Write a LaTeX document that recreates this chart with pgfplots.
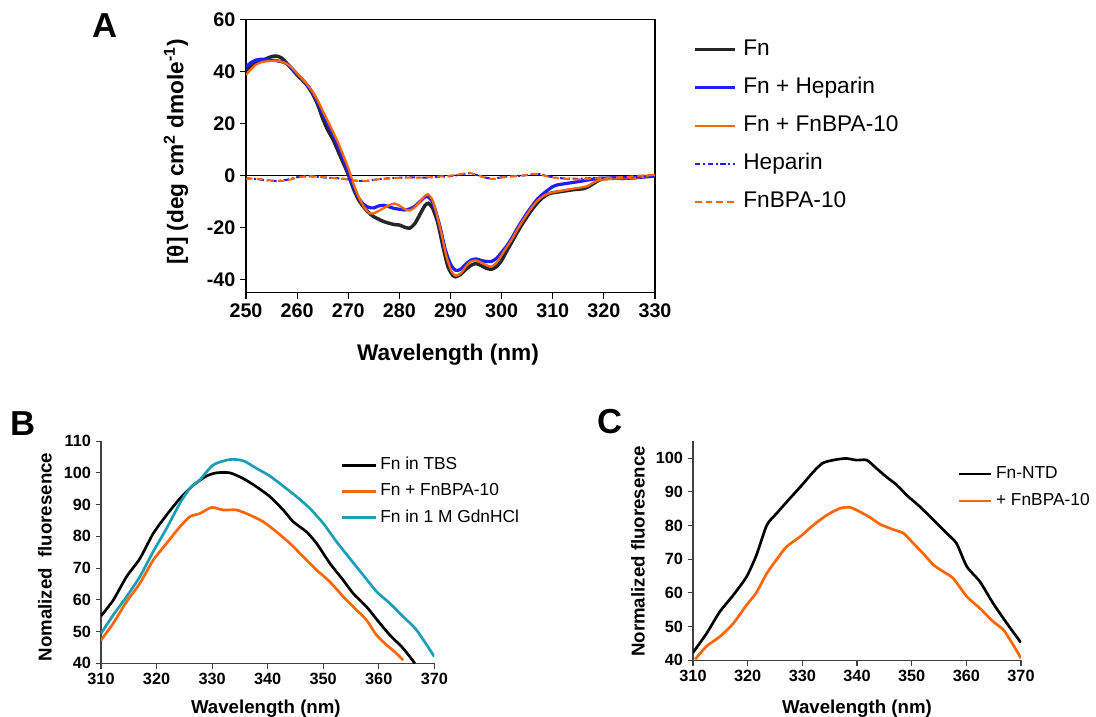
\documentclass[border=0pt]{standalone}
\usepackage{fontspec}
\setmainfont{Liberation Sans}
\usepackage{pgfplots}
\pgfplotsset{compat=1.18}
\definecolor{cblue}{RGB}{30,30,255}
\definecolor{corange}{RGB}{255,102,0}
\definecolor{cteal}{RGB}{26,158,181}
\pgfplotsset{
  basestyle/.style={
    scale only axis, anchor=south west,
    tick align=outside, tick pos=left,
    major tick length=4.5pt,
    /pgf/number format/assume math mode=true,
    every tick/.style={black, line width=0.8pt},
    legend cell align=left,
  }
}
\begin{document}
\begin{tikzpicture}
\path[use as bounding box] (0,0) rectangle (822pt,-537.75pt);

% ---------------- Panel A ----------------
\begin{axis}[basestyle,
  at={(184.5pt,-219.5pt)},
  width=306.75pt, height=204.75pt,
  xmin=250, xmax=330, ymin=-45, ymax=60,
  axis line style={line width=1pt},
  xtick={250,260,...,330},
  ytick={-40,-20,0,20,40,60},
  yticklabels={-40,-20,0,20,40,60},
  tick label style={font=\bfseries\fontsize{14.8}{14.8}\selectfont},
  legend image code/.code={\draw[#1] (0pt,0pt) -- (30pt,0pt); \path (35pt,0pt);},
  legend style={at={(1.083,0.94)}, anchor=north west, draw=none, fill=none,
    font=\fontsize{17}{17}\selectfont, row sep=12.5pt,
    nodes={inner sep=0pt, text height=12.3pt, text depth=3.7pt, anchor=west}},
]
\addplot[black, line width=0.8pt, forget plot] coordinates {(250,0) (330,0)};
\addplot[black!85, line width=2.6pt, smooth, tension=0.4] coordinates {
(250,40.6) (251,42) (252,43.3) (253,44.2) (254,45) (255,45.8) (256,46) (257,45.2) (258,43.2) (259,41) (260,38.7) (261,36.8) (262,34.6) (263,31.5) (264,27.5) (265,22) (266,17.5) (267,14) (268,9.5) (269,5) (270,0.5) (271,-5) (272,-9.2) (273,-12) (274,-14.2) (275,-15.8) (276,-16.8) (277,-17.7) (278,-18.3) (279,-18.8) (280,-19) (281,-19.8) (282,-20.2) (283,-18.5) (284,-15) (285,-11.5) (285.7,-10.6) (286.5,-12.5) (287.5,-18) (288.5,-27) (289.5,-35) (290.5,-38.5) (291,-38.9) (292,-38) (293,-36) (294,-34.5) (295,-33.8) (296,-34.6) (297,-35.6) (298,-36) (299,-35) (300,-32.6) (301,-29) (302,-25.5) (303,-22) (304,-18.7) (305,-15.7) (306,-12.9) (307,-10.5) (308,-8.5) (309,-7.2) (310,-6.6) (312,-6) (314,-5.4) (316,-5) (317,-4.2) (318,-3) (319,-1.8) (320,-1.2) (322,-1) (324,-1) (326,-0.8) (328,-0.4) (330,-0.1)};
\addlegendentry{Fn}
\addplot[cblue, line width=2.4pt, smooth, tension=0.4] coordinates {
(250,41.9) (251,43.5) (252,44.5) (253,44.8) (254,44.6) (255,44.4) (256,44.2) (257,43.8) (258,43) (259,41.2) (260,39) (261,37) (262,34.8) (263,32) (264,28.5) (265,24) (266,19.8) (267,16) (268,11.5) (269,6.5) (270,1.5) (271,-4) (272,-8.5) (273,-11) (274,-12.2) (275,-12.4) (276,-11.6) (277,-11.4) (278,-12) (279,-12.6) (280,-12.9) (281,-13.2) (282,-12.8) (283,-11.8) (284,-10) (285,-8.2) (285.5,-8) (286.3,-9.5) (287,-13) (288,-20) (289,-28.5) (290,-34) (291,-36.4) (292,-36) (293,-34) (294,-32.5) (295,-32) (296,-32.6) (297,-33) (298,-33) (299,-31.8) (300,-29.5) (301,-27) (302,-24) (303,-20.5) (304,-17.3) (305,-14.3) (306,-11.5) (307,-9) (308,-7.2) (309,-5.6) (310,-4.2) (311,-3.5) (312,-3.2) (314,-2.6) (316,-2) (318,-1.3) (320,-1) (322,-0.9) (324,-0.8) (326,-0.7) (328,-0.4) (330,-0.2)};
\addlegendentry{Fn + Heparin}
\addplot[corange, line width=1.7pt, smooth, tension=0.4] coordinates {
(250,38.7) (251,41) (252,42.8) (253,43.6) (254,44) (255,44.1) (256,44.2) (257,43.8) (258,43) (259,41.5) (260,39.3) (261,37.2) (262,35) (263,32.3) (264,29) (265,25) (266,21) (267,17) (268,12.8) (269,8) (270,3) (271,-3) (272,-8) (273,-11.8) (274,-14.2) (274.8,-14.6) (276,-13.5) (277,-12.4) (278,-11.4) (279,-10.7) (280,-11.5) (281,-12.8) (282,-13.4) (283,-12.2) (284,-10) (285,-7.8) (285.6,-7.2) (286.4,-9) (287.2,-14) (288.2,-22) (289.2,-31) (290.2,-36.8) (291,-38.5) (292,-37.6) (293,-35) (294,-33) (295,-32.6) (296,-33.4) (297,-34.4) (298,-35) (299,-33.5) (300,-30.5) (301,-27.5) (302,-24.5) (303,-21) (304,-17.8) (305,-14.8) (306,-12) (307,-9.7) (308,-8) (309,-7) (310,-6.4) (312,-5.7) (314,-5) (316,-4.4) (317,-3.8) (318,-2.6) (319,-1.8) (320,-1.4) (322,-1.1) (324,-1) (326,-0.8) (328,-0.3) (330,0.2)};
\addlegendentry{Fn + FnBPA-10}
\addplot[cblue, line width=1.5pt, dash pattern=on 4pt off 2pt on 1.5pt off 2pt, smooth, tension=0.4] coordinates {
(250,-1) (252,-1.3) (254,-1.8) (256,-2) (258,-1.6) (260,-0.6) (262,-0.2) (264,-0.5) (266,-0.8) (268,-1) (270,-1.4) (272,-2) (274,-1.9) (276,-1.3) (278,-1) (280,-0.8) (282,-0.6) (284,-0.8) (286,-0.7) (288,-0.4) (290,-0.2) (292,0.4) (293.5,0.9) (295,0.3) (297,-0.8) (298.5,-1.2) (300,-0.6) (302,-0.2) (304,0) (306,0.5) (307.5,0.6) (309,-0.2) (311,-0.9) (313,-1.1) (315,-1.2) (317,-1) (319,-0.8) (321,-0.7) (323,-0.7) (325,-0.6) (327,-0.4) (330,0)};
\addlegendentry{Heparin}
\addplot[corange, line width=1.5pt, dash pattern=on 5pt off 3pt, smooth, tension=0.4] coordinates {
(250,-1.2) (252,-1.2) (254,-1.6) (256,-2.1) (258,-1.8) (260,-0.8) (262,-0.2) (264,-0.4) (266,-0.7) (268,-1.1) (270,-1.5) (272,-2.1) (274,-2) (276,-1.4) (278,-1.1) (280,-0.9) (282,-0.7) (284,-0.8) (286,-0.6) (288,-0.3) (290,0) (292,0.6) (293.5,1.1) (295,0.4) (297,-0.9) (298.5,-1.3) (300,-0.7) (302,-0.3) (304,0) (306,0.7) (307.5,0.4) (309,-0.3) (311,-1) (313,-1.3) (315,-1.4) (317,-1.2) (319,-1) (321,-0.8) (323,-0.6) (325,-0.4) (327,0) (330,0.3)};
\addlegendentry{FnBPA-10}
\end{axis}

% ---------------- Panel B ----------------
\begin{axis}[basestyle,
  at={(75.75pt,-497.5pt)},
  width=250pt, height=166.7pt,
  xmin=310, xmax=370, ymin=40, ymax=110,
  axis x line*=bottom, axis y line*=left,
  axis line style={black!75, line width=0.9pt},
  every tick/.style={black!75, line width=0.8pt},
  major tick length=4pt,
  xtick={310,320,...,370}, ytick={40,50,...,110},
  tick label style={font=\bfseries\fontsize{12.2}{12.2}\selectfont},
  legend image code/.code={\draw[#1] (0pt,0pt) -- (25.5pt,0pt); \path (28pt,0pt);},
  legend style={at={(0.705,0.94)}, anchor=north west, draw=none, fill=none,
    font=\fontsize{13}{13}\selectfont, row sep=7.6pt,
    nodes={inner sep=0pt, text height=9.3pt, text depth=2.7pt, anchor=west}},
]
\addplot[black, line width=2pt, smooth, tension=0.4] coordinates {
(310,54.9) (312.2,59.9) (314.6,67.3) (317,73) (319.4,80.9) (321.8,86.7) (324.2,91.9) (326.6,96.1) (329,99) (330.8,100) (333.2,100) (335.6,98.2) (338,95.6) (340.4,92.5) (342.8,88.3) (344.6,84.6) (347,81.4) (348.8,77.8) (351.2,71.5) (353.6,66.2) (355.4,62) (357.8,57.8) (360.2,52.6) (362,48.9) (364.4,44.7) (366.5,40)};
\addlegendentry{Fn in TBS}
\addplot[corange, line width=2pt, smooth, tension=0.4] coordinates {
(310,47.3) (312.2,52.6) (314.6,59.4) (317,65.2) (319.4,72.5) (321.8,77.8) (324.2,83) (326,86.2) (327.8,87.2) (329.9,89.1) (332,88.3) (334.4,88.3) (336.8,86.7) (339.2,84.6) (341.6,81.4) (344,77.8) (346.4,73.6) (348.8,69.4) (351.2,65.7) (353.6,61) (356,56.8) (357.8,53.6) (359.6,48.9) (361.4,45.8) (363.2,43.1) (364.4,41)};
\addlegendentry{Fn + FnBPA-10}
\addplot[cteal, line width=2pt, smooth, tension=0.4] coordinates {
(310,49.4) (312.2,55.2) (314.6,61) (317,67.3) (319.4,75.2) (321.8,82.5) (324.2,90.4) (326,95.1) (327.8,97.8) (330.2,102.5) (333.2,104.2) (335.6,103.8) (338,101.4) (340.4,99) (342.8,95.8) (345.2,92.5) (347.6,88.8) (350,84.1) (352.4,78.3) (354.8,73) (357.2,67.8) (359.6,62.6) (362,58.9) (364.4,54.7) (366.8,50.5) (370,42.1)};
\addlegendentry{Fn in 1 M GdnHCl}
\end{axis}

% ---------------- Panel C ----------------
\begin{axis}[basestyle,
  at={(519.75pt,-495.2pt)},
  width=246pt, height=164.25pt,
  xmin=310, xmax=370, ymin=40, ymax=105,
  axis x line*=bottom, axis y line*=left,
  axis line style={black!75, line width=0.9pt},
  every tick/.style={black!75, line width=0.8pt},
  major tick length=4pt,
  xtick={310,320,...,370}, ytick={40,50,...,100},
  tick label style={font=\bfseries\fontsize{12.2}{12.2}\selectfont},
  legend image code/.code={\draw[#1] (0pt,0pt) -- (24pt,0pt); \path (27pt,0pt);},
  legend style={at={(0.793,0.90)}, anchor=north west, draw=none, fill=none,
    font=\fontsize{13}{13}\selectfont, row sep=8.1pt,
    nodes={inner sep=0pt, text height=9.3pt, text depth=2.7pt, anchor=west}},
]
\addplot[black, line width=2pt, smooth, tension=0.4] coordinates {
(310,42.3) (312.5,48) (314.9,54.4) (317.4,59.4) (319.8,64.8) (321.6,71.2) (323.5,80.1) (325.3,83.6) (327.7,88) (330.2,92.5) (332,95.9) (333.8,98.6) (336.3,99.6) (338.1,99.9) (339.9,99.4) (341.8,99.4) (343.6,96.9) (345.4,94.4) (347.3,92) (349.1,89) (351.5,85.6) (354,81.6) (356.4,77.7) (358.2,74.7) (360.1,67.8) (362.5,63.3) (364.9,56.9) (367.4,51) (370,45.2)};
\addlegendentry{Fn-NTD}
\addplot[corange, line width=2pt, smooth, tension=0.4] coordinates {
(310.4,40.3) (312.5,44.2) (314.9,47) (317.4,51) (319.8,56.4) (321.6,60.1) (323.5,65.8) (325.3,69.9) (327.1,73.7) (329.6,76.7) (332,80.1) (334.5,83.1) (336.9,85.1) (338.7,85.4) (340.5,84.1) (342.4,82.4) (344.2,80.4) (346.6,78.8) (348.5,77.7) (350.3,74.7) (352.1,71.7) (354,68.3) (355.8,66.3) (357.6,64.3) (360.1,58.9) (362.5,55.4) (364.9,51.5) (366.8,49) (368.6,44.5) (370,40.6)};
\addlegendentry{+ FnBPA-10}
\end{axis}

% ---------------- labels ----------------
\node[font=\bfseries\fontsize{17}{17}\selectfont, anchor=base] at (336pt,-270pt) {Wavelength (nm)};
\node[font=\bfseries\fontsize{17}{17}\selectfont, rotate=90] at (132pt,-114pt) {[θ] (deg cm\textsuperscript{2} dmole\textsuperscript{-1})};
\node[font=\bfseries\fontsize{14}{14}\selectfont, anchor=base] at (199.4pt,-534.75pt) {Wavelength (nm)};
\node[font=\bfseries\fontsize{14}{14}\selectfont, anchor=base] at (642.75pt,-534.75pt) {Wavelength (nm)};
\node[font=\bfseries\fontsize{14}{14}\selectfont, rotate=90] at (33.75pt,-417.75pt) {Nomalized\ \ fluoresence};
\node[font=\bfseries\fontsize{14}{14}\selectfont, rotate=90] at (478.5pt,-413.6pt) {Normalized fluoresence};
\node[font=\bfseries\fontsize{26}{26}\selectfont] at (78.75pt,-19.5pt) {A};
\node[font=\bfseries\fontsize{26}{26}\selectfont] at (17.25pt,-318pt) {B};
\node[font=\bfseries\fontsize{26}{26}\selectfont] at (457.5pt,-316.5pt) {C};
\end{tikzpicture}
\end{document}
